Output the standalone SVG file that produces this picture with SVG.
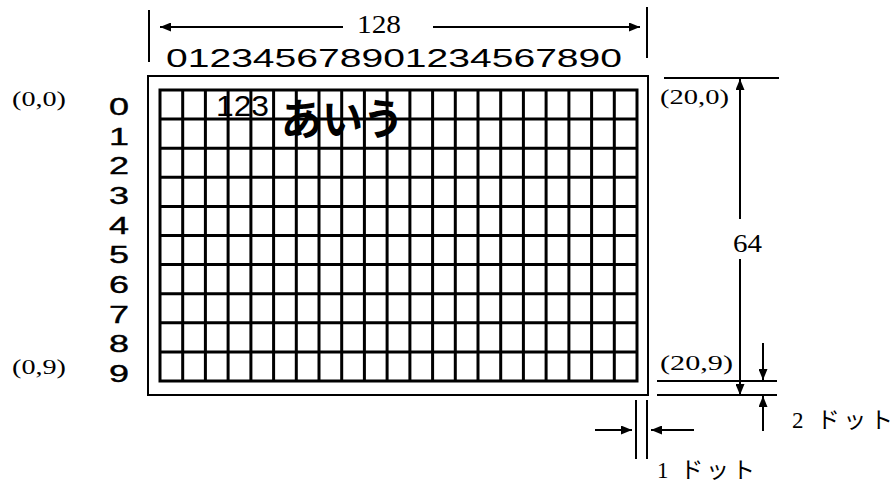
<svg xmlns="http://www.w3.org/2000/svg" width="893" height="484" viewBox="0 0 893 484">
<style>
.ln{stroke:#000;stroke-width:2;fill:none}
.gr{stroke:#000;stroke-width:3;fill:none}
.sans{font-family:"Liberation Sans",Arial,sans-serif;fill:#000}
.ser{font-family:"Liberation Serif","Noto Sans CJK JP",serif;fill:#000}
.jp{font-family:"Noto Sans CJK JP",sans-serif;font-weight:bold;fill:#000}
</style>
<defs>
<marker id="ah" markerUnits="userSpaceOnUse" markerWidth="11" markerHeight="9" refX="11" refY="4.5" orient="auto">
<path d="M0,0 L11,4.5 L0,9 Z" fill="#000"/>
</marker>
</defs>
<rect width="893" height="484" fill="#fff"/>

<g id="display">
<rect x="148" y="76" width="500" height="319" class="ln"/>
<path class="gr" d="M182.7,90V381 M205.4,90V381 M228.1,90V381 M250.9,90V381 M273.6,90V381 M296.3,90V381 M319,90V381 M341.7,90V381 M364.4,90V381 M387.1,90V381 M409.9,90V381 M432.6,90V381 M455.3,90V381 M478,90V381 M500.7,90V381 M523.4,90V381 M546.1,90V381 M568.9,90V381 M591.6,90V381 M614.3,90V381
M160,119.1H637 M160,148.2H637 M160,177.3H637 M160,206.4H637 M160,235.5H637 M160,264.6H637 M160,293.7H637 M160,322.8H637 M160,351.9H637"/>
<rect x="160" y="90" width="477" height="291" class="gr"/>
<text x="216" y="115.5" class="sans" font-size="29" textLength="53" lengthAdjust="spacingAndGlyphs">123</text>
<text x="281" y="135" class="jp" font-size="43" textLength="123" lengthAdjust="spacingAndGlyphs">あいう</text>
</g>

<g id="col-labels">
<text x="166" y="67" class="sans" font-size="25" textLength="456" lengthAdjust="spacingAndGlyphs">012345678901234567890</text>
</g>

<g id="row-labels" class="sans" font-size="24" stroke="#000" stroke-width="0.4">
<text x="109" y="115" textLength="20" lengthAdjust="spacingAndGlyphs">0</text>
<text x="109" y="144.6" textLength="20" lengthAdjust="spacingAndGlyphs">1</text>
<text x="109" y="174.3" textLength="20" lengthAdjust="spacingAndGlyphs">2</text>
<text x="109" y="203.9" textLength="20" lengthAdjust="spacingAndGlyphs">3</text>
<text x="109" y="233.6" textLength="20" lengthAdjust="spacingAndGlyphs">4</text>
<text x="109" y="263.2" textLength="20" lengthAdjust="spacingAndGlyphs">5</text>
<text x="109" y="292.9" textLength="20" lengthAdjust="spacingAndGlyphs">6</text>
<text x="109" y="322.5" textLength="20" lengthAdjust="spacingAndGlyphs">7</text>
<text x="109" y="352.2" textLength="20" lengthAdjust="spacingAndGlyphs">8</text>
<text x="109" y="381.8" textLength="20" lengthAdjust="spacingAndGlyphs">9</text>
</g>

<g id="coord-labels" class="ser" font-size="22">
<text x="12" y="106" textLength="54" lengthAdjust="spacingAndGlyphs">(0,0)</text>
<text x="12" y="374" textLength="54" lengthAdjust="spacingAndGlyphs">(0,9)</text>
<text x="660" y="104" textLength="69" lengthAdjust="spacingAndGlyphs">(20,0)</text>
<text x="660" y="370" textLength="73" lengthAdjust="spacingAndGlyphs">(20,9)</text>
</g>

<g id="dim-labels" class="ser" font-size="25">
<text x="357" y="33" textLength="44" lengthAdjust="spacingAndGlyphs">128</text>
<text x="733" y="252" textLength="29" lengthAdjust="spacingAndGlyphs">64</text>
<text x="792" y="428" font-size="23" textLength="101" lengthAdjust="spacing">2 ドット</text>
<text x="657" y="478" font-size="23" textLength="98" lengthAdjust="spacing">1 ドット</text>
</g>

<g id="connectors">
<line x1="149" y1="10" x2="149" y2="62" class="ln"/>
<line x1="647" y1="7" x2="647" y2="58" class="ln"/>
<line x1="343" y1="27" x2="160" y2="27" class="ln" marker-end="url(#ah)"/>
<line x1="433" y1="27" x2="640" y2="27" class="ln" marker-end="url(#ah)"/>

<line x1="664" y1="78" x2="779" y2="78" class="ln"/>
<line x1="740" y1="219" x2="740" y2="79" class="ln" marker-end="url(#ah)"/>
<line x1="740" y1="259" x2="740" y2="395" class="ln" marker-end="url(#ah)"/>

<line x1="657" y1="381" x2="777" y2="381" class="ln"/>
<line x1="657" y1="395" x2="777" y2="395" class="ln"/>
<line x1="763" y1="343" x2="763" y2="380" class="ln" marker-end="url(#ah)"/>
<line x1="763" y1="431" x2="763" y2="396" class="ln" marker-end="url(#ah)"/>

<line x1="636" y1="400" x2="636" y2="459" class="ln"/>
<line x1="647" y1="400" x2="647" y2="459" class="ln"/>
<line x1="595" y1="430" x2="632" y2="430" class="ln" marker-end="url(#ah)"/>
<line x1="694" y1="430" x2="651" y2="430" class="ln" marker-end="url(#ah)"/>
</g>
</svg>
